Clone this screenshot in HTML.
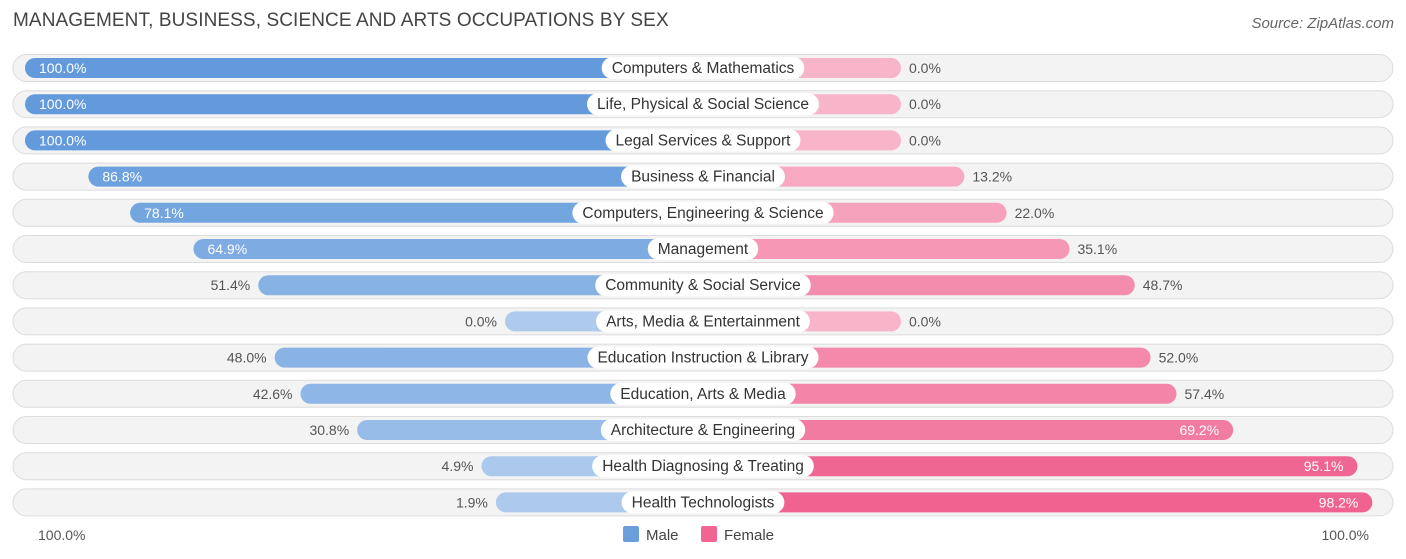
<!DOCTYPE html>
<html><head><meta charset="utf-8"><style>
body{margin:0;width:1406px;height:559px;background:#fff;font-family:"Liberation Sans",sans-serif;position:relative;overflow:hidden}
#title{position:absolute;left:13px;top:10px;font-size:19px;color:#444;letter-spacing:0.1px}
#source{position:absolute;right:12px;top:15px;font-size:15px;color:#666;font-style:italic}
</style></head><body>
<div id="title">MANAGEMENT, BUSINESS, SCIENCE AND ARTS OCCUPATIONS BY SEX</div>
<div id="source">Source: ZipAtlas.com</div>
<svg id="chart" width="1406" height="559" style="position:absolute;left:0;top:0"></svg>
<script>
const categories=["Computers & Mathematics","Life, Physical & Social Science","Legal Services & Support","Business & Financial","Computers, Engineering & Science","Management","Community & Social Service","Arts, Media & Entertainment","Education Instruction & Library","Education, Arts & Media","Architecture & Engineering","Health Diagnosing & Treating","Health Technologists"];
const maleValues=[100,100,100,86.8,78.1,64.9,51.4,0,48.0,42.6,30.8,4.9,1.9];
const femaleValues=[0,0,0,13.2,22.0,35.1,48.7,0,52.0,57.4,69.2,95.1,98.2];
const axisLabels=["100.0%","100.0%"];
const NS="http://www.w3.org/2000/svg";
const svg=document.getElementById('chart');
const cx=703,base=198,scale=4.8,y0=68,step=36.2;
function xw(v){return base+v*scale;}
function rowY(i){return y0+i*step;}
function mix(a,b,t){return 'rgb('+a.map((c,k)=>Math.round(c+(b[k]-c)*t)).join(',')+')';}
function mk(tag,attrs){const e=document.createElementNS(NS,tag);for(const k in attrs)e.setAttribute(k,attrs[k]);svg.appendChild(e);return e;}
categories.forEach((cat,i)=>{
  const y=rowY(i);
  const bg=mk('rect',{x:13,y:y-13.5,width:1380,height:27,rx:13.5,fill:'#f3f3f3',stroke:'#dcdcdc','stroke-width':1});
  
  
  const m=maleValues[i],f=femaleValues[i];
  const mw=xw(m),fw=xw(f);
  const mb=mk('rect',{x:cx-mw,y:y-10,width:mw,height:20,rx:10,fill:mix([174,203,238],[98,154,219],m/100)});
  
  
  const fb=mk('rect',{x:cx,y:y-10,width:fw,height:20,rx:10,fill:mix([248,180,201],[240,98,144],f/100)});
  
  
  // male value label
  const mIn=m>=60;
  const mt=mk('text',{x:mIn?cx-mw+14:cx-mw-8,y:y+5,'font-size':14,fill:mIn?'#fff':'#555','text-anchor':mIn?'start':'end'});
  mt.textContent=m.toFixed(1)+'%';
  
  
  const fIn=f>=60;
  const ft=mk('text',{x:fIn?cx+fw-14:cx+fw+8,y:y+5,'font-size':14,fill:fIn?'#fff':'#555','text-anchor':fIn?'end':'start'});
  ft.textContent=f.toFixed(1)+'%';
  
  
  // category label
  const lt=mk('text',{x:cx,y:y+5,'font-size':15.5,fill:'#333','text-anchor':'middle'});
  lt.textContent=cat;
  
  
  const w=lt.getComputedTextLength()+20;
  const lb=document.createElementNS(NS,'rect');
  lb.setAttribute('x',cx-w/2);lb.setAttribute('y',y-11);lb.setAttribute('width',w);lb.setAttribute('height',22);lb.setAttribute('rx',11);lb.setAttribute('fill','#fff');
  
  
  svg.insertBefore(lb,lt);
});
const al=mk('text',{x:38,y:540,'font-size':14,fill:'#555'});al.textContent=axisLabels[0];


const ar=mk('text',{x:1369,y:540,'font-size':14,fill:'#555','text-anchor':'end'});ar.textContent=axisLabels[1];


const lm=mk('rect',{x:623,y:526,width:16,height:16,rx:2,fill:'#6a9fdc'});


const lmt=mk('text',{x:646,y:540,'font-size':15,fill:'#444'});lmt.textContent='Male';


const lf=mk('rect',{x:701,y:526,width:16,height:16,rx:2,fill:'#f06592'});


const lft=mk('text',{x:724,y:540,'font-size':15,fill:'#444'});lft.textContent='Female';


</script>
</body></html>
